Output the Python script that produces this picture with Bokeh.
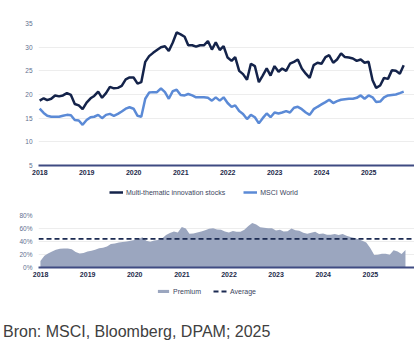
import pandas as pd
from datetime import datetime
from bokeh.plotting import figure
from bokeh.models import (Legend, Span, FixedTicker, DatetimeTickFormatter,
                          PrintfTickFormatter, Range1d, Div, ColumnDataSource)
from bokeh.layouts import column
from bokeh.embed import file_html
from bokeh.resources import INLINE

# ---- data (monthly) ----
dates = pd.date_range("2017-12-31", periods=94, freq="ME")

innovation = [18.7, 19.2, 18.8, 19.1, 19.8, 19.6, 19.8, 20.3, 19.9, 18.0, 17.7, 16.9,
              18.3, 19.2, 19.7, 20.6, 19.3, 20.3, 21.6, 21.3, 21.4, 21.8, 23.2, 23.6,
              23.6, 22.3, 22.6, 26.9, 28.1, 28.8, 29.4, 30.0, 30.2, 29.2, 31.0, 33.1,
              32.7, 32.2, 30.4, 30.4, 30.1, 30.4, 30.4, 31.3, 29.5, 31.0, 29.4, 30.2,
              27.8, 27.1, 27.9, 25.0, 24.3, 23.1, 26.5, 26.0, 22.6, 24.0, 25.5, 24.0,
              26.0, 24.8, 25.5, 25.0, 26.5, 26.9, 27.4, 25.5, 24.4, 23.5, 26.2, 26.7,
              26.5, 27.9, 28.3, 26.7, 27.4, 28.7, 27.9, 27.8, 27.6, 27.1, 27.4, 26.7,
              26.9, 23.0, 21.4, 21.9, 23.5, 23.3, 25.1, 25.0, 24.4, 26.2]

msci_world = [17.0, 16.1, 15.5, 15.3, 15.3, 15.3, 15.5, 15.7, 15.6, 14.6, 14.5, 13.6,
              14.6, 15.2, 15.3, 15.7, 15.0, 15.7, 15.9, 15.5, 15.9, 16.4, 17.0, 17.3,
              17.0, 15.5, 15.3, 19.1, 20.4, 20.5, 20.5, 21.3, 20.5, 19.1, 20.7, 21.0,
              19.9, 19.8, 20.1, 19.8, 19.4, 19.4, 19.4, 19.3, 18.7, 19.4, 18.7, 19.4,
              18.2, 17.4, 17.7, 16.5, 15.9, 14.8, 15.7, 15.2, 13.9, 15.0, 16.0, 15.2,
              16.2, 16.0, 16.2, 16.5, 16.2, 17.2, 17.4, 16.9, 16.2, 15.7, 16.9, 17.4,
              17.9, 18.4, 18.9, 18.2, 18.6, 18.9, 19.0, 19.1, 19.1, 19.3, 19.8, 19.1,
              19.8, 19.4, 18.4, 18.5, 19.4, 19.8, 19.9, 20.0, 20.3, 20.6]

premium = [10.0, 18.0, 21.5, 24.5, 27.5, 29.0, 29.4, 29.4, 28.0, 24.0, 21.6, 22.5,
           24.5, 25.8, 27.5, 29.5, 30.5, 32.5, 36.0, 37.0, 38.5, 39.2, 40.0, 41.2,
           42.5, 43.5, 46.4, 41.2, 39.7, 41.5, 42.3, 44.8, 50.0, 53.0, 55.2, 54.0,
           62.5, 60.0, 52.0, 52.5, 54.0, 55.5, 57.5, 59.5, 60.5, 58.5, 58.0, 55.5,
           54.0, 56.0, 55.0, 55.0, 58.0, 64.0, 68.6, 66.0, 62.0, 61.0, 60.3, 60.3,
           57.0, 58.0, 55.5, 55.7, 60.0, 57.5, 56.7, 53.5, 52.0, 53.5, 55.0, 51.5,
           52.5, 50.5, 50.5, 51.5, 50.0, 51.5, 49.0, 47.0, 45.4, 43.5, 41.0, 38.5,
           30.0, 19.1, 19.5, 21.0, 21.0, 19.5, 26.5, 24.7, 20.6, 26.8]

premium_average = 44.0
years = [2018, 2019, 2020, 2021, 2022, 2023, 2024, 2025]
top_ticks = [5, 10, 15, 20, 25, 30, 35]
bottom_ticks = [0, 20, 40, 60, 80]

src = ColumnDataSource(dict(date=dates, innovation=innovation,
                            msci=msci_world, premium=premium))
year_ms = [int(pd.Timestamp(f"{y}-01-01").value // 10**6) for y in years]

NAVY = "#14234a"
LIGHT = "#5b8ad6"
AREA = "#9ba6bf"
AXIS = "#3f4b82"
DASH = "#1c2b52"
FONT = "Liberation Sans"


def style(p, yticks):
    p.outline_line_color = None
    p.xgrid.grid_line_color = None
    p.ygrid.grid_line_color = "#ededed"
    p.yaxis.ticker = FixedTicker(ticks=yticks)
    p.yaxis.axis_line_color = None
    p.yaxis.major_tick_line_color = None
    p.yaxis.minor_tick_line_color = None
    p.yaxis.major_tick_out = 0
    p.yaxis.major_label_text_font = FONT
    p.yaxis.major_label_text_font_size = "6.5px"
    p.yaxis.major_label_text_color = "#5f6f8e"
    p.yaxis.major_label_standoff = 6
    p.xaxis.ticker = FixedTicker(ticks=year_ms)
    p.xaxis.formatter = DatetimeTickFormatter(years="%Y", months="%Y", days="%Y",
                                              hours="%Y", minutes="%Y")
    p.xaxis.axis_line_color = AXIS
    p.xaxis.axis_line_width = 1.8
    p.xaxis.major_tick_line_color = None
    p.xaxis.minor_tick_line_color = None
    p.xaxis.major_tick_out = 0
    p.xaxis.major_tick_in = 0
    p.xaxis.major_label_text_font = FONT
    p.xaxis.major_label_text_font_style = "bold"
    p.xaxis.major_label_text_font_size = "7px"
    p.xaxis.major_label_text_color = "#1c2a4a"
    p.xaxis.major_label_standoff = 4


def legend_figure():
    # a strip that only carries a legend; its sample glyphs sit outside its ranges
    f = figure(width=414, height=20, output_backend="svg", toolbar_location=None,
               x_range=Range1d(0, 1), y_range=Range1d(0, 1),
               min_border=0, min_border_left=0, min_border_right=0,
               min_border_top=0, min_border_bottom=0)
    f.axis.visible = False
    f.grid.visible = False
    f.outline_line_color = None
    return f


def make_legend(items, loc, spacing, glyph_h):
    return Legend(items=items, orientation="horizontal", location=loc,
                  label_text_font=FONT, label_text_font_size="7px",
                  label_text_color="#3b4660", glyph_width=14, glyph_height=glyph_h,
                  label_height=8, spacing=spacing, padding=2, margin=0,
                  label_standoff=3, border_line_color=None,
                  background_fill_alpha=0)


hidden = dict(x=[5, 6], y=[5, 5])

# ---- top chart ----
p1 = figure(width=414, height=180, x_axis_type="datetime", output_backend="svg",
            toolbar_location=None,
            x_range=Range1d(datetime(2017, 12, 22), datetime(2025, 12, 23)),
            y_range=Range1d(5, 35),
            min_border_left=33, min_border_right=0, min_border_top=23,
            min_border_bottom=15)
style(p1, top_ticks)
p1.line("date", "innovation", source=src, line_color=NAVY, line_width=2.5)
p1.line("date", "msci", source=src, line_color=LIGHT, line_width=2.5)

l1 = legend_figure()
k1 = l1.line(x=hidden["x"], y=hidden["y"], line_color=NAVY, line_width=2.5)
k2 = l1.line(x=hidden["x"], y=hidden["y"], line_color=LIGHT, line_width=2.5)
l1.add_layout(make_legend([("Multi-thematic innovation stocks", [k1]),
                           ("MSCI World", [k2])], (71, 4), 18, 8))

# ---- bottom chart ----
p2 = figure(width=414, height=80, x_axis_type="datetime", output_backend="svg",
            toolbar_location=None,
            x_range=Range1d(datetime(2017, 12, 16), datetime(2025, 12, 9)),
            y_range=Range1d(0, 80),
            min_border_left=38, min_border_right=0, min_border_top=15,
            min_border_bottom=13)
style(p2, bottom_ticks)
p2.yaxis.formatter = PrintfTickFormatter(format="%d%%")
p2.varea(x="date", y1=0, y2="premium", source=src, fill_color=AREA, fill_alpha=1)
p2.add_layout(Span(location=premium_average, dimension="width", line_color=DASH,
                   line_width=1.8, line_dash="5 3"))

l2 = legend_figure()
k3 = l2.varea(x=hidden["x"], y1=hidden["y"], y2=[6, 6], fill_color=AREA, fill_alpha=1)
k4 = l2.line(x=hidden["x"], y=hidden["y"], line_color=DASH, line_width=1.8,
             line_dash="5 3")
l2.add_layout(make_legend([("Premium", [k3]), ("Average", [k4])], (118, 5), 12, 4))

note = Div(text="Bron: MSCI, Bloomberg, DPAM; 2025", width=414, height=46,
           styles={"font-family": "Liberation Sans, Arial, sans-serif",
                   "font-size": "16px", "color": "#404040",
                   "padding-left": "3px", "padding-top": "23px",
                   "line-height": "18px", "margin": "0"})

layout = column(p1, l1, p2, l2, note, spacing=0)
open("out.html", "w").write(file_html(layout, INLINE))
